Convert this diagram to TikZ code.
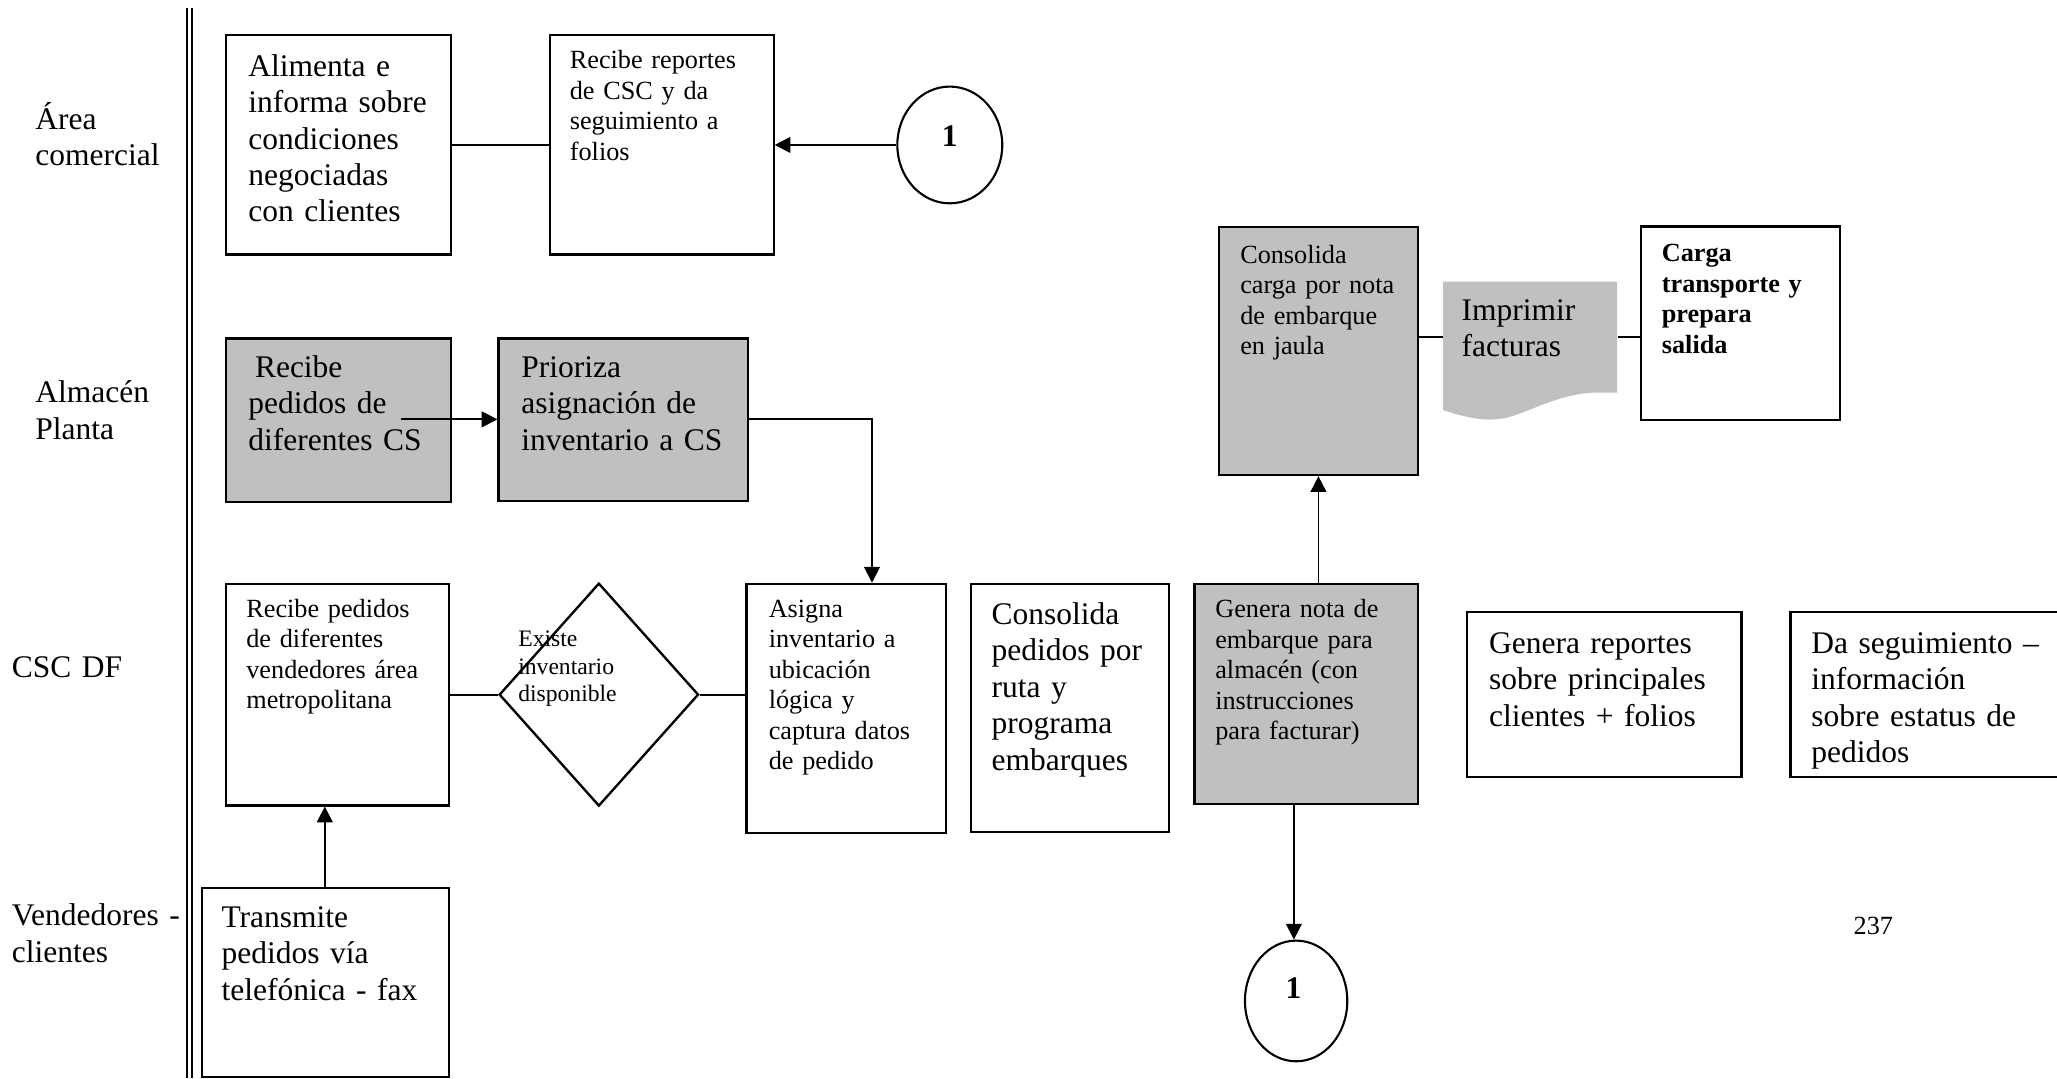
\documentclass[tikz,border=0pt]{standalone}
\usepackage{fontspec}
\setmainfont{Liberation Serif}
\usetikzlibrary{fit,arrows.meta,shapes.geometric}
\definecolor{boxgray}{HTML}{C0C0C0}

\begin{document}
\begin{tikzpicture}[x=0.5pt,y=-0.5pt,
  box/.style={draw, line width=0.8pt, inner sep=0pt},
  gbox/.style={box, fill=boxgray},
  txt/.style={inner sep=0pt, anchor=base west, align=left, text width=160pt},
  big/.style={txt, font=\fontsize{12}{13.9}\selectfont},
  sml/.style={txt, font=\fontsize{10}{11.6}\selectfont},
  tiny/.style={txt, font=\fontsize{9}{10.5}\selectfont},
  link/.style={line width=0.7pt},
  flow/.style={link, -{Triangle[length=6pt,width=6pt]}},
  conn/.style={ellipse, draw, line width=0.8pt, inner sep=0pt},
  connum/.style={inner sep=0pt, font=\bfseries\fontsize{12}{14}\selectfont},
]
\useasboundingbox (0,0) rectangle (1568,822);
\clip (0,0) rectangle (1568,822);

% lane separator (double rule)
\draw[line width=0.75pt] (142.5,5.8) -- (142.5,822);
\draw[line width=0.75pt] (146.6,5.8) -- (146.6,822);

% lane names
\node[big] (lnA) at (26.6,98.5) {Área\\comercial};
\node[big] (lnB) at (26.6,307) {Almacén\\Planta};
\node[big] (lnC) at (8.7,516.6) {CSC DF};
\node[big] (lnD) at (8.7,705.6) {Vendedores -\\clientes};

% ---- Área comercial
\node[box, fit={(172.5,27)(343.5,194)}] (b1) {};
\node[big] (t1) at (189,58) {Alimenta e\\informa sobre\\condiciones\\negociadas\\con clientes};
\node[box, fit={(419,27)(589.7,194)}] (b2) {};
\node[sml] (t2) at (434,52.5) {Recibe reportes\\de CSC y da\\seguimiento a\\folios};
\node[conn, minimum width=40pt, minimum height=44.5pt] (c1) at (724,110.5) {};
\node[connum] (n1) at (724,103.7) {1};

% ---- Almacén Planta
\node[gbox, fit={(172.5,258)(343.5,383)}] (b4) {};
\node[big] (t4) at (189,287.5) {\hspace*{2.5pt}Recibe\\pedidos de\\diferentes CS};
\node[gbox, fit={(380,258)(570,382)}] (b5) {};
\node[big] (t5) at (397,287.5) {Prioriza\\asignación de\\inventario a CS};

\node[gbox, fit={(929,173.2)(1081,362.2)}] (b16) {};
\node[sml] (t16) at (945,200.8) {Consolida\\carga por nota\\de embarque\\en jaula};
\node[fit={(1100,214.7)(1232.6,320.2)}, inner sep=0pt] (doc) {};
\fill[boxgray] (1100,214.7) -- (1232.6,214.7) -- (1232.6,299.2) -- (1216.6,299.2)
  .. controls (1190,300) and (1170,312) .. (1150,318)
  .. controls (1138,321) and (1125,321) .. (1100,312.6) -- cycle;
\node[big] (t17) at (1113.7,244) {Imprimir\\facturas};
\node[box, fit={(1250.8,172.7)(1402.5,320.2)}] (b18) {};
\node[sml, font=\bfseries\fontsize{10}{11.6}\selectfont] (t18) at (1266.4,199.5) {Carga\\transporte y\\prepara\\salida};

% ---- CSC DF
\node[box, fit={(172,445)(342,614)}] (b6) {};
\node[sml] (t6) at (187.4,470.7) {Recibe pedidos\\de diferentes\\vendedores área\\metropolitana};
\node[diamond, draw, line width=0.9pt, inner sep=0pt, minimum width=76pt, minimum height=85pt] (d1) at (456.5,529.5) {};
\node[tiny] (td) at (394.7,493) {Existe\\inventario\\disponible};
\node[box, fit={(569,445)(721,635)}] (b8) {};
\node[sml] (t8) at (585.6,470.7) {Asigna\\inventario a\\ubicación\\lógica y\\captura datos\\de pedido};
\node[box, fit={(740,445)(891.4,634)}] (b9) {};
\node[big] (t9) at (755.5,476) {Consolida\\pedidos por\\ruta y\\programa\\embarques};
\node[gbox, fit={(910.5,445)(1081,613)}] (b10) {};
\node[sml] (t10) at (926,471) {Genera nota de\\embarque para\\almacén (con\\instrucciones\\para facturar)};
\node[box, fit={(1118.5,466.5)(1327.5,592)}] (b12) {};
\node[big] (t12) at (1134.7,498) {Genera reportes\\sobre principales\\clientes + folios};
\node[box, fit={(1364.8,466.5)(1590,592)}] (b13) {};
\node[big] (t13) at (1380.4,498) {Da seguimiento –\\información\\sobre estatus de\\pedidos};

% ---- Vendedores - clientes
\node[box, fit={(154,677)(342,821)}] (b15) {};
\node[big] (t15) at (168.5,707) {Transmite\\pedidos vía\\telefónica - fax};
\node[conn, minimum width=39pt, minimum height=46pt] (c2) at (988,763) {};
\node[connum] (n2) at (986,753) {1};
\node[inner sep=0pt, anchor=base, font=\fontsize{10}{12}\selectfont] (pg) at (1428,712) {237};

% ---- connectors
\coordinate (s4) at (306,319.7);
\coordinate (k5) at (664.7,319.7);
\coordinate (ax) at (247.6,650);
\coordinate (bx) at (986.3,650);
\coordinate (yB) at (0,257.2);

\draw[link] (b1.east) -- (b2.west);
\draw[flow] (c1.west) -- (b2.east);
\draw[flow] (s4) -- (s4 -| b5.west);
\draw[flow] (b5.east |- k5) -- (k5) -- (k5 |- b8.north);
\draw[link] (b6.east) -- (d1.west);
\draw[link] (d1.east) -- (d1.east -| b8.west);
\draw[flow] (ax |- b15.north) -- (ax |- b6.south);
\draw[flow] (bx |- b10.south) -- (bx |- c2.north);
\draw[flow] (b10.north -| b16.south) -- (b16.south);
\draw[link] (b16.east |- yB) -- (doc.west |- yB);
\draw[link] (doc.east |- yB) -- (b18.west |- yB);
\end{tikzpicture}
\end{document}
